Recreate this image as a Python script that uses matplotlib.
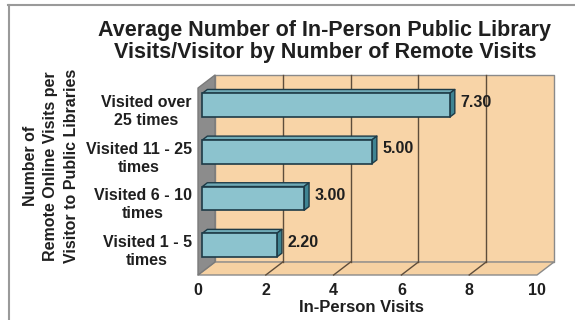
import matplotlib
matplotlib.use("Agg")
import matplotlib.pyplot as plt
from matplotlib.patches import Polygon
from matplotlib.lines import Line2D
from matplotlib.transforms import IdentityTransform, Affine2D
import numpy as np

plt.rcParams['font.family'] = ['Liberation Sans', 'DejaVu Sans']
plt.rcParams['font.weight'] = 'bold'
plt.rcParams['axes.labelweight'] = 'bold'

# Data
categories = ["Visited 1 - 5\ntimes", "Visited 6 - 10\ntimes",
              "Visited 11 - 25\ntimes", "Visited over\n25 times"]
visits = [2.20, 3.00, 5.00, 7.30]
x_ticks = [0, 2, 4, 6, 8, 10]
title = "Average Number of In-Person Public Library\nVisits/Visitor by Number of Remote Visits"
x_label = "In-Person Visits"
y_label = "Number of\nRemote Online Visits per\nVisitor to Public Libraries"

TEXT = "#1f1f1f"
WALL = "#F8D4A7"
FLOOR = "#F6D1A2"
SIDE_WALL = "#8C8C8C"
EDGE = "#8a8a8a"
GRID = "#5e4d3b"
BAR = "#8CC3CE"
BAR_TOP = "#6FAAB6"
BAR_SIDE = "#3F8492"
BAR_EDGE = "#1E3B47"

W, H = 575, 320
fig = plt.figure(figsize=(W / 100, H / 100), dpi=100)
ax = fig.add_axes([198 / W, 45 / H, 339 / W, 187 / H])
for s in ax.spines.values():
    s.set_visible(False)
ax.patch.set_visible(False)

# depth of the 3-D box in pixels (x right, y up)
DEPTH = np.array([17.0, 13.0])
F0, F1 = 0.26, 0.55        # front / back depth of the bars
ident = IdentityTransform()

ypos = np.arange(len(categories))
bar_h = 0.51
bars = ax.barh(ypos, visits, height=bar_h, color=BAR, edgecolor=BAR_EDGE,
               linewidth=1.2, zorder=4,
               transform=ax.transData + Affine2D().translate(*(F0 * DEPTH)))
ax.set_xlim(0, 10)
ax.set_ylim(-0.57, 3.44)
YLO, YHI = ax.get_ylim()


def disp(x, y, d=0.0):
    return ax.transData.transform((x, y)) + d * DEPTH


def face(pts, fc, ec, lw, z):
    ax.add_patch(Polygon(pts, closed=True, facecolor=fc, edgecolor=ec,
                         linewidth=lw, transform=ident, clip_on=False,
                         zorder=z, joinstyle='round'))


# walls and floor
face([disp(0, YLO, 1), disp(10, YLO, 1), disp(10, YHI, 1), disp(0, YHI, 1)],
     WALL, EDGE, 1.0, 0)
face([disp(0, YLO, 0), disp(10, YLO, 0), disp(10, YLO, 1), disp(0, YLO, 1)],
     FLOOR, EDGE, 1.0, 0)
face([disp(0, YLO, 0), disp(0, YHI, 0), disp(0, YHI, 1), disp(0, YLO, 1)],
     SIDE_WALL, "#7a7a7a", 1.0, 1)

for xv in x_ticks[1:-1]:
    p, q = disp(xv, YLO, 1), disp(xv, YHI, 1)
    ax.add_line(Line2D([p[0], q[0]], [p[1], q[1]], color=GRID, lw=1.0,
                       transform=ident, clip_on=False, zorder=1))
    p, q = disp(xv, YLO, 0), disp(xv, YLO, 1)
    ax.add_line(Line2D([p[0], q[0]], [p[1], q[1]], color=GRID, lw=1.0,
                       transform=ident, clip_on=False, zorder=1))

# 3-D faces of the bars and value labels
for rect, v in zip(bars.patches, visits):
    y0 = rect.get_y()
    y1 = y0 + rect.get_height()
    face([disp(0, y1, F0), disp(v, y1, F0), disp(v, y1, F1), disp(0, y1, F1)],
         BAR_TOP, BAR_EDGE, 1.0, 3)
    face([disp(v, y0, F0), disp(v, y1, F0), disp(v, y1, F1), disp(v, y0, F1)],
         BAR_SIDE, BAR_EDGE, 1.0, 3)
    ax.text(v, y0 + rect.get_height() / 2, f"{v:.2f}", ha='left', va='center',
            fontsize=11.5, color=TEXT, zorder=5,
            transform=ax.transData + Affine2D().translate(F1 * DEPTH[0] + 6,
                                                          F0 * DEPTH[1] + 3))

# axes text
ax.set_xticks(x_ticks)
ax.set_xticklabels([str(t) for t in x_ticks], fontsize=11.5, color=TEXT)
ax.set_yticks(ypos)
ax.set_yticklabels(categories, fontsize=11.5, color=TEXT, linespacing=1.25)
for t in ax.get_yticklabels():
    t.set_multialignment('center')
ax.tick_params(axis='x', length=0, pad=6)
ax.tick_params(axis='y', length=0, pad=4.5)

ax.set_xlabel(x_label, fontsize=12, color=TEXT, fontweight='bold')
ax.xaxis.label.set_va('center')
ax.xaxis.set_label_coords((361 - 198) / 339, (275 - 307) / 187)

fig.text(51 / W, 1 - 166 / H, y_label, rotation=90, ha='center', va='center',
         ma='center', fontsize=11.5, color=TEXT, linespacing=1.45)
fig.text(325 / W, 1 - 41.5 / H, title, ha='center', va='center',
         fontsize=15.5, color=TEXT, linespacing=1.05)

# outer frame (top and left edges)
fig.add_artist(Line2D([8 / W, 1], [1 - 5 / H, 1 - 5 / H], color="#9a9a9a",
                      lw=1.5, transform=fig.transFigure))
fig.add_artist(Line2D([8.5 / W, 8.5 / W], [0, 1 - 5 / H], color="#9a9a9a",
                      lw=1.5, transform=fig.transFigure))

fig.savefig("out.png", dpi=100)
